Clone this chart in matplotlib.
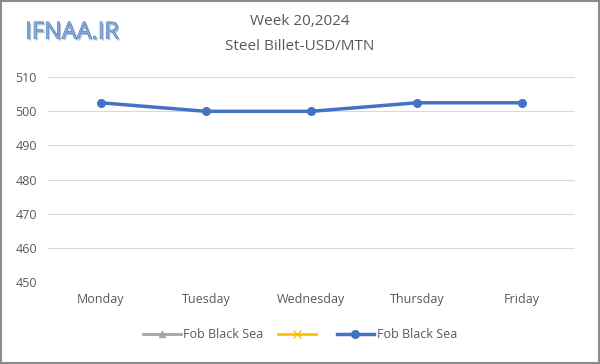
import matplotlib
matplotlib.use("Agg")
import matplotlib.pyplot as plt
import matplotlib.patheffects as pe
import numpy as np

plt.rcParams['font.family'] = ['Open Sans', 'DejaVu Sans']

days = ["Monday", "Tuesday", "Wednesday", "Thursday", "Friday"]
billet = [502.5, 500, 500, 502.5, 502.5]
grey_series = [np.nan] * 5
yellow_series = [np.nan] * 5
legend_labels = ["Fob Black Sea", " ", "Fob Black Sea"]
yticks = [450, 460, 470, 480, 490, 500, 510]

txt = "#595959"
fig = plt.figure(figsize=(6, 3.64), dpi=100)
fig.patches.append(plt.Rectangle((0.002, 0.003), 0.996, 0.994, transform=fig.transFigure,
                                 fill=False, edgecolor="#8c8c8c", linewidth=1.5))
ax = fig.add_axes([0.08, 0.225, 0.878, 0.563])

x = np.arange(len(days))
ax.plot(x, grey_series, color="#a5a5a5", marker="^", markersize=5, linewidth=2, label=legend_labels[0])
ax.plot(x, yellow_series, color="#ffc000", marker="x", markersize=6, linewidth=2, label=legend_labels[1])
ax.plot(x, billet, color="#4472c4", marker="o", markersize=5.5, linewidth=2.5, label=legend_labels[2])

ax.set_xlim(-0.5, len(days) - 0.5)
ax.set_ylim(450, 510)
ax.set_yticks(yticks)
ax.set_xticks(x)
ax.set_xticklabels(days)
ax.grid(axis="y", color="#d9d9d9", linewidth=0.8)
ax.set_axisbelow(True)
for s in ax.spines.values():
    s.set_visible(False)
ax.tick_params(length=0, labelsize=9, colors=txt, pad=8)

fig.text(0.5, 0.942, "Week 20,2024", ha="center", va="center", fontsize=11, color=txt)
fig.text(0.5, 0.873, "Steel Billet-USD/MTN", ha="center", va="center", fontsize=11, color=txt)

fig.text(0.042, 0.91, "IFNAA.IR", ha="left", va="center", fontsize=17, color="#7fa9df",
         path_effects=[pe.withSimplePatchShadow(offset=(1.2, -1.2), shadow_rgbFace="#9aa8b8", alpha=0.7),
                       pe.Stroke(linewidth=0.5, foreground="#3d6fb0"), pe.Normal()])

fig.legend(loc="center", bbox_to_anchor=(0.5, 0.08), ncol=3, frameon=False, fontsize=9,
           labelcolor=txt, handlelength=3, handletextpad=0.2, columnspacing=1.2)

fig.savefig("out.png", dpi=100)
